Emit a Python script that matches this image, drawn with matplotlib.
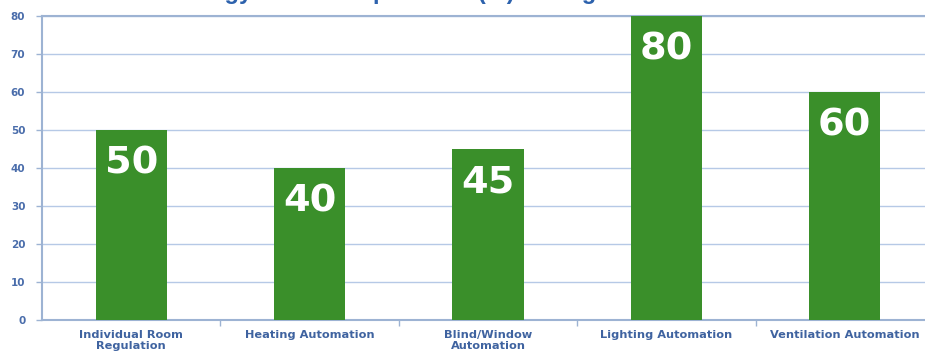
import matplotlib
matplotlib.use("Agg")
import matplotlib.pyplot as plt
from matplotlib.ticker import FixedLocator, NullFormatter

# Datos del gráfico
categories = ["Individual Room\nRegulation", "Heating Automation",
              "Blind/Window\nAutomation", "Lighting Automation",
              "Ventilation Automation"]
savings = [50, 40, 45, 80, 60]
y_ticks = [0, 10, 20, 30, 40, 50, 60, 70, 80]
title = "Energy reduction potential (%) through automation"

BAR_GREEN = "#3a8f2a"
GRID_BLUE = "#b6c9e6"
AXIS_BLUE = "#9db3d3"
TEXT_BLUE = "#3f63a0"
TICK_BLUE = "#4a6dab"

plt.rcParams['font.family'] = ['DejaVu Sans']

fig = plt.figure(figsize=(9.25, 3.56), dpi=100)
# los ejes se salen un poco por la derecha, como en la imagen original
ax = fig.add_axes([42 / 925, 36 / 356, 5 * 178.4 / 925, 304 / 356])

x = range(len(categories))
bars = ax.bar(x, savings, width=0.4, color=BAR_GREEN, zorder=3)

for b, v in zip(bars, savings):
    ax.text(b.get_x() + b.get_width() / 2, v - 11.4, str(v),
            ha='center', va='baseline', color='white', fontsize=27.5,
            fontweight='bold', zorder=4)

ax.set_xlim(-0.5, len(categories) - 0.5)
ax.set_ylim(0, 80)
ax.set_yticks(y_ticks)
ax.set_yticklabels([str(t) for t in y_ticks])
ax.yaxis.grid(True, color=GRID_BLUE, linewidth=1.0, zorder=0)

# marcas del eje x entre categorías, etiquetas centradas
ax.xaxis.set_major_locator(FixedLocator([i + 0.5 for i in range(len(categories))]))
ax.xaxis.set_major_formatter(NullFormatter())
ax.xaxis.set_minor_locator(FixedLocator(list(x)))
ax.set_xticklabels(categories, minor=True)
ax.tick_params(axis='x', which='major', length=4, width=1, color=AXIS_BLUE)
ax.tick_params(axis='x', which='minor', length=0, pad=7.5, labelsize=8.2,
               labelcolor=TEXT_BLUE)
for lbl in ax.get_xticklabels(minor=True):
    lbl.set_fontweight('bold')
    lbl.set_linespacing(1.1)

ax.tick_params(axis='y', length=4, width=1, color=AXIS_BLUE, pad=8,
               labelsize=7.5, labelcolor=TICK_BLUE)
for lbl in ax.get_yticklabels():
    lbl.set_fontweight('semibold')

ax.spines['right'].set_visible(False)
for side in ['top', 'left', 'bottom']:
    ax.spines[side].set_color(AXIS_BLUE)
    ax.spines[side].set_linewidth(1.5)

# título recortado por el borde superior, sólo se ven los trazos descendentes
fig.text(459 / 925, 1 + 0.5 / 356, title, ha='center', va='baseline',
         fontsize=17, fontweight='bold', color="#2d62ad",
         family=['Liberation Sans', 'DejaVu Sans'])

fig.savefig("out.png", dpi=100)
